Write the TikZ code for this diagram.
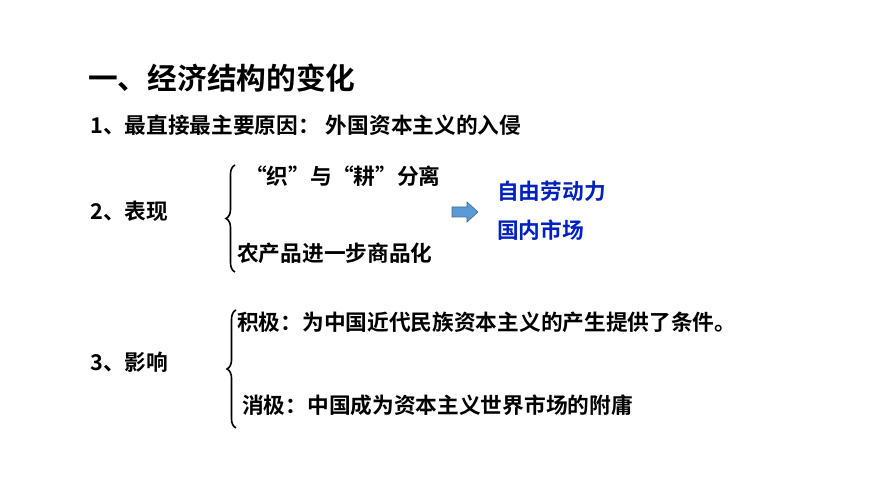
\documentclass[tikz,border=0pt]{standalone}
\usepackage{fontspec}
\setmainfont{Noto Sans CJK SC}[BoldFont={Noto Sans CJK SC Bold}]
\usetikzlibrary{decorations.pathreplacing}
\definecolor{dblue}{RGB}{0,32,192}
\definecolor{arrblue}{RGB}{91,155,213}
\begin{document}
\begin{tikzpicture}[x=1pt,y=-1pt,
  txt/.style={anchor=west,inner sep=0,font=\bfseries\fontsize{21.7}{24}\selectfont},
  btxt/.style={txt,text=dblue},
  brc/.style={decorate,decoration={brace,amplitude=9pt},line width=1.6pt}]
\path[use as bounding box] (0,0) rectangle (870,489);
\node[anchor=west,inner sep=0,font=\bfseries\fontsize{29.7}{34}\selectfont] (title) at (88,78) {一、经济结构的变化};
\node[txt] (l1) at (90,125) {1、最直接最主要原因：\hspace{6pt}外国资本主义的入侵};
\node[txt] (l2) at (90,211) {2、表现};
\node[txt] (a1) at (245,176) {“织”与“耕”分离};
\node[txt] (a2) at (237,253) {农产品进一步商品化};
\node[btxt] (b1) at (497,191) {自由劳动力};
\node[btxt] (b2) at (497,230) {国内市场};
\node[txt] (l3) at (90,362) {3、影响};
\node[txt] (c1) at (237,322) {积极：为中国近代民族资本主义的产生提供了条件。};
\node[txt] (c2) at (242,405) {消极：中国成为资本主义世界市场的附庸};
\draw[brc] (235,272) -- (235,165);
\draw[brc] (236,428) -- (236,310);
\coordinate (ar) at (452,212);
\draw[fill=arrblue,draw=arrblue!70!black,line width=0.6pt]
  (ar) ++(0,-5) -- ++(15,0) -- ++(0,-5) -- ++(11,10) -- ++(-11,10) -- ++(0,-5) -- ++(-15,0) -- cycle;
\end{tikzpicture}
\end{document}
